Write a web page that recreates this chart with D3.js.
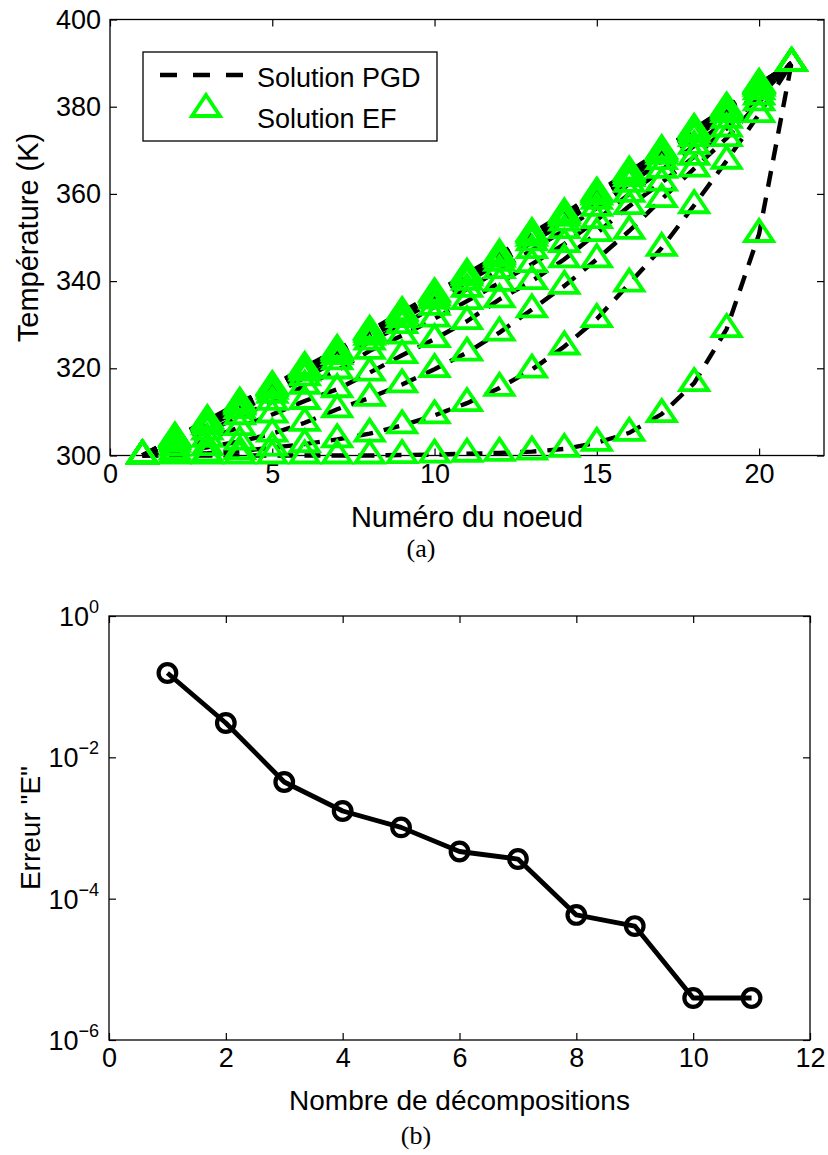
<!DOCTYPE html>
<html><head><meta charset="utf-8">
<script src="https://cdn.jsdelivr.net/npm/d3@7"></script>
<style>body{margin:0;background:#fff}</style>
</head><body>
<svg id="chart" width="828" height="1155" xmlns="http://www.w3.org/2000/svg"></svg>
<script>
// ---------- Data : panel (a) ----------
const nodes = [1,2,3,4,5,6,7,8,9,10,11,12,13,14,15,16,17,18,19,20,21];
const tempA = [300,300,300,300,300,300,300,300,300.1,300.2,300.4,300.6,300.9,301.5,302.9,305.2,309.5,316.6,329.0,350.8,390];
const tempB = [300,300.2,300.5,301.0,301.8,302.6,303.7,305.0,306.9,309.2,312.0,315.5,319.7,325.0,331.3,339.4,347.6,357.4,367.6,378.3,390];
const tempC = [300,300.9,301.9,303.2,305.0,307.5,310.6,313.2,316.3,319.8,323.6,328.2,333.5,338.9,345.0,351.5,358.8,365.8,372.8,381.0,390];
const tempD = [300,301.8,303.8,306.5,309.4,312.5,315.2,319.0,323.0,326.7,330.8,335.8,340.0,345.0,351.0,357.2,362.6,368.5,375.0,382.3,390];
const tempE = [300,302.7,305.5,309.0,312.3,316.0,319.5,324.0,327.5,331.4,335.4,339.6,343.9,348.5,354.0,360.0,365.5,371.0,377.0,383.5,390];
const tempF = [300,303.3,306.7,310.4,313.9,317.9,321.6,326.1,329.9,334.1,338.2,342.5,347.1,351.7,356.8,362.3,367.5,372.8,378.3,384.3,390];
const tempG = [300,303.7,307.3,311.2,314.8,319.0,322.8,327.2,331.3,335.5,339.8,344.2,348.9,353.4,358.4,363.6,368.7,373.7,378.9,384.7,390];
const tempH = [300,303.9,307.7,311.6,315.4,319.7,323.5,327.9,332.1,336.3,340.8,345.1,349.9,354.5,359.4,364.3,369.3,374.3,379.3,385.0,390];
const tempI = [300,304.0,307.9,311.9,315.7,320.0,323.9,328.3,332.6,336.9,341.3,345.7,350.6,355.1,359.9,364.8,369.7,374.7,379.6,385.1,390];
const tempJ = [300,304.1,308.1,312.1,315.9,320.3,324.2,328.6,332.9,337.2,341.7,346.1,351.0,355.5,360.3,365.1,370.0,374.9,379.8,385.2,390];
const xTicksA = [0,5,10,15,20];
const yTicksA = [300,320,340,360,380,400];
const legendLabels = ["Solution PGD","Solution EF"];

// ---------- Data : panel (b) ----------
const decompositions = [1,2,3,4,5,6,7,8,9,10,11];
const erreurE = [0.156,0.0306,0.00448,0.00174,0.00102,0.000465,0.000364,0.0000588,0.000041,0.00000393,0.00000393];
const xTicksB = [0,2,4,6,8,10,12];
const yTicksB = [1e-6,1e-4,1e-2,1];
const yTickExp = ["−6","−4","−2","0"];

const curves = [tempA,tempB,tempC,tempD,tempE,tempF,tempG,tempH,tempI,tempJ];

const FONT = "'Liberation Sans', Arial, Helvetica, sans-serif";
const svg = d3.select("#chart");
svg.append("rect").attr("width",828).attr("height",1155).attr("fill","#fff");

// ================= Panel (a) =================
const xA = d3.scaleLinear().domain([0,22]).range([110,824]);
const yA = d3.scaleLinear().domain([300,400]).range([455.5,19.5]);
const gA = svg.append("g");

function styleAxis(g){
  g.selectAll("path.domain").remove();
  g.selectAll(".tick line").attr("stroke","#000").attr("stroke-width",1.2);
  g.selectAll("text").attr("font-family",FONT).attr("font-size",27).attr("fill","#000");
}
gA.append("g").attr("transform",`translate(0,${yA(300)})`)
  .call(d3.axisBottom(xA).tickValues(xTicksA).tickSizeInner(-7).tickSizeOuter(0).tickPadding(8).tickFormat(d3.format("d")))
  .call(styleAxis);
gA.append("g").attr("transform",`translate(0,${yA(400)})`)
  .call(d3.axisTop(xA).tickValues(xTicksA).tickSizeInner(-7).tickSizeOuter(0).tickFormat(""))
  .call(styleAxis);
gA.append("g").attr("transform",`translate(${xA(0)},0)`)
  .call(d3.axisLeft(yA).tickValues(yTicksA).tickSizeInner(-7).tickSizeOuter(0).tickPadding(9).tickFormat(d3.format("d")))
  .call(styleAxis);
gA.append("g").attr("transform",`translate(${xA(22)},0)`)
  .call(d3.axisRight(yA).tickValues(yTicksA).tickSizeInner(-7).tickSizeOuter(0).tickFormat(""))
  .call(styleAxis);
gA.append("rect").attr("x",xA(0)).attr("y",yA(400))
  .attr("width",xA(22)-xA(0)).attr("height",yA(300)-yA(400))
  .attr("fill","none").attr("stroke","#000").attr("stroke-width",1.3);

const lineA = d3.line().x((d,i)=>xA(nodes[i])).y(d=>yA(d));
const DASH = "16,11";
gA.selectAll("path.pgd").data(curves).join("path").attr("class","pgd")
  .attr("d",lineA).attr("fill","none").attr("stroke","#000")
  .attr("stroke-width",4.4).attr("stroke-dasharray",DASH);

function triPath(w,h){ return `M0,${-2*h/3}L${w/2},${h/3}L${-w/2},${h/3}Z`; }
const TRI = triPath(28,21);
curves.forEach(c=>{
  gA.append("g").selectAll("path").data(c).join("path")
    .attr("d",TRI)
    .attr("transform",(d,i)=>`translate(${xA(nodes[i])},${yA(d)})`)
    .attr("fill","none").attr("stroke","#00ff00").attr("stroke-width",3.8)
    .attr("stroke-linejoin","miter");
});

// legend
const lg = gA.append("g");
lg.append("rect").attr("x",143).attr("y",52).attr("width",294).attr("height",89)
  .attr("fill","#fff").attr("stroke","#000").attr("stroke-width",1.3);
lg.append("line").attr("x1",160).attr("x2",245).attr("y1",75).attr("y2",75)
  .attr("stroke","#000").attr("stroke-width",4.4).attr("stroke-dasharray","17,16");
lg.append("path").attr("d",TRI).attr("transform","translate(206,109)")
  .attr("fill","none").attr("stroke","#00ff00").attr("stroke-width",3.8);
lg.selectAll("text").data(legendLabels).join("text")
  .attr("x",257).attr("y",(d,i)=>i===0?87:128)
  .attr("font-family",FONT).attr("font-size",27).text(d=>d);

gA.append("text").attr("x",(xA(0)+xA(22))/2).attr("y",527).attr("text-anchor","middle")
  .attr("font-family",FONT).attr("font-size",29).text("Numéro du noeud");
gA.append("text").attr("transform",`translate(38,${(yA(300)+yA(400))/2}) rotate(-90)`)
  .attr("text-anchor","middle").attr("font-family",FONT).attr("font-size",29).text("Température (K)");
gA.append("text").attr("x",421).attr("y",557).attr("text-anchor","middle")
  .attr("font-family","'Liberation Serif','DejaVu Serif',serif").attr("font-size",26).text("(a)");

// ================= Panel (b) =================
const xB = d3.scaleLinear().domain([0,12]).range([109,810]);
const yB = d3.scaleLog().domain([1e-6,1]).range([1040,616]);
const gB = svg.append("g");
gB.append("g").attr("transform",`translate(0,${yB(1e-6)})`)
  .call(d3.axisBottom(xB).tickValues(xTicksB).tickSizeInner(-7).tickSizeOuter(0).tickPadding(8).tickFormat(d3.format("d")))
  .call(styleAxis);
gB.append("g").attr("transform",`translate(0,${yB(1)})`)
  .call(d3.axisTop(xB).tickValues(xTicksB).tickSizeInner(-7).tickSizeOuter(0).tickFormat(""))
  .call(styleAxis);
gB.append("g").attr("transform",`translate(${xB(0)},0)`)
  .call(d3.axisLeft(yB).tickValues(yTicksB).tickSizeInner(-7).tickSizeOuter(0).tickFormat(""))
  .call(styleAxis);
gB.append("g").attr("transform",`translate(${xB(12)},0)`)
  .call(d3.axisRight(yB).tickValues(yTicksB).tickSizeInner(-7).tickSizeOuter(0).tickFormat(""))
  .call(styleAxis);
gB.append("rect").attr("x",xB(0)).attr("y",yB(1))
  .attr("width",xB(12)-xB(0)).attr("height",yB(1e-6)-yB(1))
  .attr("fill","none").attr("stroke","#000").attr("stroke-width",1.3);

const yl = gB.selectAll("text.ylab").data(yTicksB).join("text").attr("class","ylab")
  .attr("x",xB(0)-10).attr("y",d=>yB(d)+10).attr("text-anchor","end")
  .attr("font-family",FONT).attr("font-size",27);
yl.append("tspan").text("10");
yl.append("tspan").attr("font-size",18).attr("dy",-13).text((d,i)=>yTickExp[i]);

const lineB = d3.line().x((d,i)=>xB(decompositions[i])).y(d=>yB(d));
gB.append("path").datum(erreurE).attr("d",lineB).attr("fill","none")
  .attr("stroke","#000").attr("stroke-width",4.8).attr("stroke-linejoin","round");
gB.selectAll("circle").data(erreurE).join("circle")
  .attr("cx",(d,i)=>xB(decompositions[i])).attr("cy",d=>yB(d)).attr("r",8.8)
  .attr("fill","none").attr("stroke","#000").attr("stroke-width",4.2);

gB.append("text").attr("x",(xB(0)+xB(12))/2).attr("y",1110).attr("text-anchor","middle")
  .attr("font-family",FONT).attr("font-size",28).text("Nombre de décompositions");
gB.append("text").attr("transform",`translate(40,${(yB(1)+yB(1e-6))/2}) rotate(-90)`)
  .attr("text-anchor","middle").attr("font-family",FONT).attr("font-size",28).text("Erreur \"E\"");
gB.append("text").attr("x",416).attr("y",1144).attr("text-anchor","middle")
  .attr("font-family","'Liberation Serif','DejaVu Serif',serif").attr("font-size",26).text("(b)");
</script>
</body></html>
